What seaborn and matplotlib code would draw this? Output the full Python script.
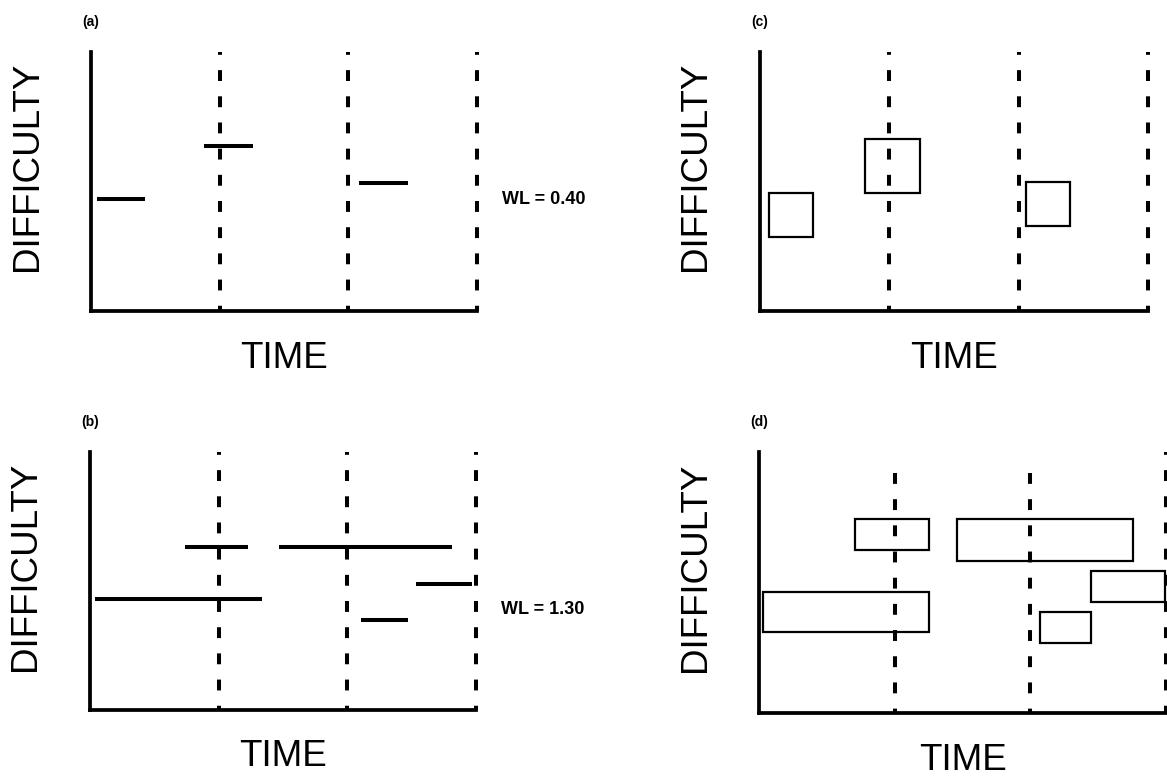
import matplotlib
matplotlib.use("Agg")
import matplotlib.pyplot as plt
import seaborn as sns

# -------------------------------
# Data (time in periods, difficulty 0-10)
# -------------------------------
period_marks = [1, 2, 3]

# (a) point estimates
a_start = [0.05, 0.88, 2.08]
a_end = [0.42, 1.26, 2.46]
a_level = [4.32, 6.37, 4.94]

# (b) point estimates, high workload
b_start = [0.74, 1.47, 0.04, 2.53, 2.11]
b_end = [1.23, 2.81, 1.34, 2.97, 2.47]
b_level = [6.32, 6.32, 4.30, 4.88, 3.49]

# (c) boxes
c_left = [0.07, 0.81, 2.06]
c_right = [0.41, 1.24, 2.40]
c_low = [2.86, 4.56, 3.28]
c_high = [4.56, 6.64, 4.98]

# (d) boxes
d_left = [0.71, 1.46, 2.45, 0.03, 2.07]
d_right = [1.25, 2.76, 2.99, 1.25, 2.45]
d_low = [6.25, 5.82, 4.25, 3.10, 2.68]
d_high = [7.43, 7.43, 5.44, 4.64, 3.87]
d_dash_top = [9.2, 9.2, 10]

panel_labels = ["(a)", "(b)", "(c)", "(d)"]
wl_labels = ["WL = 0.40", "WL = 1.30"]
wl_pos = [0.43, 0.39]

sns.set_theme(style="white")
plt.rcParams["font.family"] = ["Liberation Sans", "DejaVu Sans"]
plt.rcParams["text.color"] = "black"

fig = plt.figure(figsize=(11.67, 7.81), dpi=100)
W, H = 1167, 781

def make_ax(x0, y0, x1, y1):
    return fig.add_axes([x0 / W, 1 - y1 / H, (x1 - x0) / W, (y1 - y0) / H])

ax_a = make_ax(91, 52, 477, 311)
ax_c = make_ax(760, 52, 1148, 311)
ax_b = make_ax(90, 452, 476, 710)
ax_d = make_ax(759, 452, 1166, 713)

PX = 0.72  # points per pixel at 100 dpi

for ax, lab in zip([ax_a, ax_b, ax_c, ax_d], panel_labels):
    ax.set_xlim(0, 3)
    ax.set_ylim(0, 10)
    ax.set_xticks([])
    ax.set_yticks([])
    sns.despine(ax=ax)
    for s in ["left", "bottom"]:
        ax.spines[s].set_linewidth(2.7)
        ax.spines[s].set_color("black")
        ax.spines[s].set_capstyle("projecting")
    ax.patch.set_alpha(0)
    ax.annotate("DIFFICULTY", xy=(0, 0.557), xycoords="axes fraction",
                xytext=(-64 * PX, 0), textcoords="offset points",
                rotation=90, ha="center", va="center", fontsize=26.5)
    ax.annotate("TIME", xy=(0.5, 0), xycoords="axes fraction",
                xytext=(0, -47 * PX), textcoords="offset points",
                ha="center", va="center", fontsize=26.5)
    ax.annotate(lab, xy=(0, 1), xycoords="axes fraction",
                xytext=(-9 * PX, 30 * PX), textcoords="offset points",
                ha="left", va="center", fontsize=10, fontweight="bold")

# dashes drawn from the top down, starting with a short piece
dash = (2.0, (2.7, 3.8))
for ax in [ax_a, ax_b, ax_c]:
    ax.vlines(period_marks, 10, 0, colors="black", linewidth=2.9,
              linestyles=[dash], clip_on=False)
for xm, top in zip(period_marks, d_dash_top):
    ax_d.vlines(xm, top, 0, colors="black", linewidth=2.9,
                linestyles=[(0, (2.7, 3.8)) if top < 10 else dash],
                clip_on=False)

# lines
ax_a.hlines(a_level, a_start, a_end, colors="black", linewidth=2.9)
ax_b.hlines(b_level, b_start, b_end, colors="black", linewidth=2.9)

# boxes
c_w = [r - l for l, r in zip(c_left, c_right)]
c_h = [h - l for l, h in zip(c_low, c_high)]
ax_c.bar(c_left, c_h, width=c_w, bottom=c_low, align="edge",
         fill=False, edgecolor="black", linewidth=1.6, zorder=3)
d_w = [r - l for l, r in zip(d_left, d_right)]
d_h = [h - l for l, h in zip(d_low, d_high)]
ax_d.bar(d_left, d_h, width=d_w, bottom=d_low, align="edge",
         fill=False, edgecolor="black", linewidth=1.6, zorder=3, clip_on=False)

for ax, txt, yp in zip([ax_a, ax_b], wl_labels, wl_pos):
    ax.annotate(txt, xy=(1, yp), xycoords="axes fraction",
                xytext=(25 * PX, 0), textcoords="offset points",
                ha="left", va="center", fontsize=13, fontweight="bold")

fig.savefig("out.png", dpi=100, facecolor="white")
